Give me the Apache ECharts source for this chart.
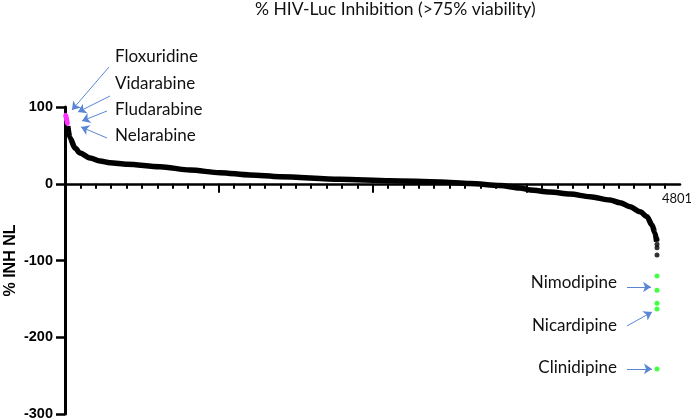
<!DOCTYPE html>
<html>
<head>
<meta charset="utf-8">
<script src="https://cdn.jsdelivr.net/npm/echarts@6/dist/echarts.min.js"></script>
<style>
html,body{margin:0;padding:0;background:#fff;}
#chart{width:691px;height:420px;}
</style>
</head>
<body>
<div id="chart"></div>
<script>
// ---- data (x = compound rank, y = % inhibition) ----
var titleText = '% HIV-Luc Inhibition (>75% viability)';
var yAxisName = '% INH NL';
var yTicks = [-300, -200, -100, 0, 100];
var xLastLabel = 4801;
var xTickCount = 39;
// top hits (magenta)
var topHits = [[4, 90], [10, 86], [15, 82], [20, 78]];
// main sorted curve (black)
var curveX = [22, 40, 80, 120, 200, 280, 360, 496, 760, 1000, 1240, 1480, 1720, 2200, 2600, 3000, 3240, 3480, 3640, 3720, 3880, 4040, 4200, 4360, 4440, 4520, 4600, 4656, 4696, 4720, 4733];
var curveY = [75, 59.6, 46.6, 40, 33.6, 29.6, 27.4, 25.3, 22.2, 17.9, 14.4, 11.4, 9.2, 5.8, 4.0, 2.3, 0.3, -2.3, -5.5, -8.1, -10.7, -13.4, -16.9, -21.2, -24.7, -29.9, -36.4, -42.9, -53.7, -64.2, -75.5];
// tail points (black dots)
var tailX = [4736, 4736, 4736, 4736];
var tailY = [-72.4, -78.9, -83.3, -92.8];
// bottom hits (green)
var lowX = [4736, 4736, 4736, 4736, 4736];
var lowY = [-120.2, -138.8, -155.8, -163.2, -241.4];
// annotations
var topNames = ['Floxuridine', 'Vidarabine', 'Fludarabine', 'Nelarabine'];
var topArrows = [
  [[352, 152.1], [56, 96.1]],
  [[360, 114.3], [104, 93.5]],
  [[336, 94.8], [136, 81.8]],
  [[336, 59.6], [128, 74]]
];
var lowNames = ['Nimodipine', 'Nicardipine', 'Clinidipine'];
var lowArrows = [
  [[4496, -134.5], [4688, -134.5]],
  [[4496, -185.3], [4696, -167.1]],
  [[4496, -241.3], [4696, -241.3]]
];

var curve = curveX.map(function (x, i) { return [x, curveY[i]]; });
var tail = tailX.map(function (x, i) { return [x, tailY[i]]; });
var low = lowX.map(function (x, i) { return [x, lowY[i]]; });
var arrows = topArrows.concat(lowArrows).map(function (c) { return { coords: c }; });

var tickInterval = xLastLabel / xTickCount;
var annFont = 'Lato, "Open Sans", sans-serif';
var axisFont = '"Liberation Sans", Arial, sans-serif';

var chart = echarts.init(document.getElementById('chart'), null, { renderer: 'canvas' });

var gridTop = 107, gridBottom = 6;

var graphics = [];
var topY = [59, 86, 112, 138];
topNames.forEach(function (n, i) {
  graphics.push({ type: 'text', left: 115, top: topY[i] - 11, style: { text: n, font: '17px ' + annFont, fill: '#111' } });
});
var lowYpx = [285, 328, 370];
lowNames.forEach(function (n, i) {
  graphics.push({ type: 'text', right: 691 - 617, top: lowYpx[i] - 11, style: { text: n, font: '17px ' + annFont, fill: '#111', textAlign: 'right' } });
});

chart.setOption({
  animation: false,
  backgroundColor: '#fff',
  title: {
    text: titleText, left: 255, top: 0, padding: 0,
    textStyle: { fontFamily: annFont, fontSize: 17.5, fontWeight: 'normal', color: '#111' }
  },
  graphic: graphics,
  grid: [
    { left: 65, right: 11, top: gridTop, bottom: gridBottom, outerBoundsMode: 'none', containLabel: false },
    { left: 65, right: 26, top: gridTop, bottom: gridBottom, outerBoundsMode: 'none', containLabel: false },
    { left: 65, right: 691 - (65 + 600 * 30 / 39), top: gridTop, bottom: gridBottom, outerBoundsMode: 'none', containLabel: false }
  ],
  xAxis: [
    {
      type: 'value', gridIndex: 0, min: 0, max: 4920,
      axisLine: { show: true, onZero: true, lineStyle: { color: '#000', width: 2.5 } },
      axisTick: { show: false }, axisLabel: { show: false }, splitLine: { show: false }
    },
    {
      type: 'value', gridIndex: 1, min: 0, max: xLastLabel, interval: tickInterval,
      axisLine: { show: false, onZero: true },
      axisTick: { show: true, length: 5, lineStyle: { color: '#000', width: 2 } },
      axisLabel: { show: false },
      splitLine: { show: false }
    },
    {
      type: 'value', gridIndex: 2, min: 0, max: tickInterval * 30, interval: tickInterval * 10,
      axisLine: { show: false, onZero: true },
      axisTick: { show: true, length: 9, lineStyle: { color: '#000', width: 2 } },
      axisLabel: { show: false }, splitLine: { show: false }
    }
  ],
  yAxis: [
    {
      type: 'value', gridIndex: 0, min: -300, max: 100, interval: 100,
      name: yAxisName, nameLocation: 'middle', nameGap: 46, nameMoveOverlap: false,
      nameTextStyle: { fontFamily: axisFont, fontSize: 16, fontWeight: 'bold', color: '#000' },
      axisLine: { show: true, lineStyle: { color: '#000', width: 3 } },
      axisTick: { show: true, length: 9, lineStyle: { color: '#000', width: 2.5 } },
      axisLabel: { margin: 12, fontFamily: axisFont, fontSize: 14.5, fontWeight: 'bold', color: '#000' },
      splitLine: { show: false }
    },
    { type: 'value', gridIndex: 1, min: -300, max: 100, show: false },
    { type: 'value', gridIndex: 2, min: -300, max: 100, show: false }
  ],
  series: [
    {
      type: 'line', xAxisIndex: 0, yAxisIndex: 0, data: curve, showSymbol: false, symbol: 'none',
      smooth: 0.3, smoothMonotone: 'x',
      lineStyle: { color: '#000', width: 5.5 }, z: 3
    },
    {
      type: 'line', xAxisIndex: 0, yAxisIndex: 0, data: topHits, symbol: 'circle', symbolSize: 4,
      itemStyle: { color: '#ff33ff' }, lineStyle: { color: '#ff33ff', width: 5 }, z: 4
    },
    {
      type: 'scatter', xAxisIndex: 0, yAxisIndex: 0, data: tail, symbolSize: 5,
      itemStyle: { color: '#000' }, z: 4
    },
    {
      type: 'scatter', xAxisIndex: 0, yAxisIndex: 0, data: low, symbolSize: 5,
      itemStyle: { color: '#14ff14' }, z: 4
    },
    {
      type: 'lines', coordinateSystem: 'cartesian2d', xAxisIndex: 0, yAxisIndex: 0, clip: false,
      data: arrows, symbol: ['none', 'arrow'], symbolSize: 8,
      lineStyle: { color: '#5b86d6', width: 1, opacity: 1 }, z: 5
    }
  ]
});

// label for the last tick, positioned through the axis scale
var p = chart.convertToPixel({ xAxisIndex: 1, yAxisIndex: 1 }, [xLastLabel, 0]);
graphics.push({
  type: 'text', x: p[0] - 3, y: p[1] + 9,
  style: { text: String(xLastLabel), font: '13px ' + annFont, fill: '#111', textAlign: 'left', textVerticalAlign: 'top' }
});
chart.setOption({ graphic: graphics });
</script>
</body>
</html>
